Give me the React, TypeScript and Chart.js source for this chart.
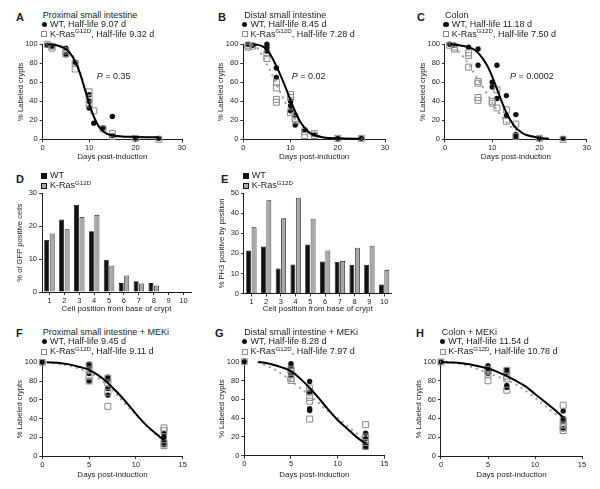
import React, { useEffect, useRef } from "react";
import { Chart, registerables } from "chart.js";
Chart.register(...registerables);

const FONT = '"Liberation Sans", Arial, Helvetica, sans-serif';
const INK = "#1c1c1c";
const GREY_PT = "#8a8a8a";
const GREY_LINE = "#9c9c9c";
const GREY_BAR = "#a8a8a8";

// ---------- Panel A: Proximal small intestine ----------
const aWtX = [1, 2, 5, 5, 7, 10, 10, 10, 11, 13, 15, 15, 20, 25];
const aWtY = [99, 98, 96, 89, 81, 47, 40, 33, 17, 12, 24, 4, 1, 1];
const aKrX = [1, 2, 2, 5, 5, 7, 7, 10, 10, 10, 11, 13, 15, 15, 20, 25];
const aKrY = [100, 98, 96, 93, 90, 80, 74, 50, 43, 37, 30, 11, 6, 3, 1, 0];
const aFitX = [1, 3, 5, 6, 7, 8, 9, 10, 11, 12, 13, 14, 15, 17, 20, 25];
const aWtFit = [100, 99, 95, 90, 82, 70, 54, 38, 24, 14, 8.5, 5.5, 4, 3, 2.5, 2.2];
const aKrFit = [100, 99, 96, 91, 84, 72, 56, 39, 24, 14, 8, 5, 3.5, 2.5, 2, 2];

// ---------- Panel B: Distal small intestine ----------
const bWtX = [1, 2, 5, 5, 5, 7, 7, 10, 10, 10, 11, 11, 13, 15, 20, 25];
const bWtY = [100, 99, 100, 97, 93, 75, 65, 40, 35, 30, 25, 15, 10, 5, 1, 1];
const bKrX = [1, 1, 2, 5, 5, 7, 7, 7, 7, 10, 10, 10, 11, 11, 13, 13, 15, 15, 20, 25];
const bKrY = [99, 97, 98, 90, 85, 60, 54, 42, 39, 47, 44, 28, 22, 20, 8, 4, 6, 4, 1, 1];
const bFitX = [2, 3, 4, 5, 6, 7, 8, 9, 10, 11, 12, 13, 14, 15, 17, 20, 25];
const bWtFit = [100, 99.5, 98, 94, 87, 77, 66, 54, 41, 29, 19, 12, 7, 4.5, 2, 1, 0.5];
const bKrFit = [99, 96, 88, 79, 69, 58, 48, 38, 29, 21, 15, 10, 7, 5, 2, 1, 0.5];

// ---------- Panel C: Colon ----------
const cWtX = [1, 2, 5, 7, 7, 10, 10, 11, 11, 13, 13, 15, 15, 15, 20, 25];
const cWtY = [100, 99, 97, 95, 78, 60, 55, 78, 43, 46, 25, 26, 5, 2, 1, 1];
const cKrX = [1, 2, 2, 5, 5, 5, 7, 7, 7, 7, 10, 10, 11, 11, 13, 13, 15, 15, 20, 25];
const cKrY = [99, 97, 95, 91, 88, 76, 61, 59, 44, 41, 40, 38, 52, 33, 31, 19, 16, 3, 1, 0];
const cWtFitX = [1, 3, 5, 6, 7, 8, 9, 10, 11, 12, 13, 14, 15, 16, 17, 18, 20, 22];
const cWtFit = [100, 99, 97, 95, 91, 85, 77, 66, 53, 40, 28, 19, 12, 8, 5, 3.5, 1.5, 0.5];
const cKrFitX = [1, 2, 3, 4, 5, 6, 7, 8, 9, 10, 11, 12, 13, 14, 15, 16, 17, 18, 20, 22];
const cKrFit = [100, 98, 92, 86, 79, 71, 63, 55, 47, 39, 31, 24, 18, 13, 10, 7.5, 5.5, 4, 2, 0.5];

// ---------- Panel D: GFP positive cells by position ----------
const positions = ["1", "2", "3", "4", "5", "6", "7", "8", "9", "10"];
const dWt = [15.8, 22, 26.5, 18.5, 9.8, 2.7, 3.3, 2.7, 0, 0];
const dKr = [17.8, 19.1, 22.8, 23.4, 8, 5, 2.6, 2, 0, 0];

// ---------- Panel E: PH3 positive by position ----------
const eWt = [21.5, 23.5, 12.5, 14.5, 24.5, 16, 15.7, 14.3, 14.3, 4.5];
const eKr = [33, 46.5, 37.5, 47.8, 37.3, 21.5, 16.3, 22.8, 23.8, 11.8];

// ---------- Panel F: Proximal + MEKi ----------
const fWtX = [0, 5, 5, 5, 5, 7, 7, 7, 7, 13, 13, 13, 13];
const fWtY = [100, 98, 95, 88, 80, 84, 81, 72, 65, 24, 20, 16, 12];
const fKrX = [0, 5, 5, 5, 5, 7, 7, 7, 7, 13, 13, 13, 13];
const fKrY = [100, 97, 92, 85, 80, 83, 78, 68, 53, 30, 27, 14, 11];
const fFitX = [0.5, 2, 3, 4, 5, 6, 7, 8, 9, 10, 11, 12, 13];
const fWtFit = [100, 99, 97.5, 95, 92, 86, 78, 68, 57, 45, 34, 25, 17];
const fKrFit = [100, 98, 96, 93, 89, 83, 75, 65, 54, 44, 33, 24, 16];

// ---------- Panel G: Distal + MEKi ----------
const gWtX = [0, 5, 5, 5, 5, 7, 7, 7, 7, 13, 13, 13, 13];
const gWtY = [100, 98, 95, 88, 85, 79, 67, 50, 48, 24, 18, 12, 9];
const gKrX = [0, 5, 5, 5, 5, 7, 7, 7, 7, 7, 13, 13, 13, 13];
const gKrY = [100, 92, 90, 82, 80, 72, 68, 62, 58, 39, 33, 20, 14, 10];
const gFitX = [1.5, 3, 4, 5, 6, 7, 8, 9, 10, 11, 12, 13];
const gWtFit = [100, 97, 94, 90, 82, 72, 61, 49, 38, 29, 20, 13];
const gKrFit = [99, 93, 87, 80, 72, 64, 56, 47, 40, 32, 24, 17];

// ---------- Panel H: Colon + MEKi ----------
const hWtX = [0, 5, 5, 5, 5, 7, 7, 7, 7, 13, 13, 13, 13];
const hWtY = [100, 96, 93, 90, 88, 92, 89, 75, 73, 48, 40, 37, 29];
const hKrX = [0, 5, 5, 5, 5, 7, 7, 7, 7, 13, 13, 13, 13, 13];
const hKrY = [100, 92, 90, 87, 80, 91, 85, 82, 70, 54, 38, 33, 30, 27];
const hFitX = [0, 1, 2, 3, 4, 5, 6, 7, 8, 9, 10, 11, 12, 13];
const hWtFit = [100, 99.5, 99, 97.5, 95.5, 93, 89.5, 85, 80, 74, 66, 58, 50, 41];
const hKrFit = [100, 99.3, 98, 95.5, 92, 88, 84.5, 80.5, 76, 69.5, 62, 54, 46, 40];

// ---------- layout helpers ----------
const YT = 7.6; // y title font size
const XT = 8; // x title font size
const TK = 7.5; // tick font size
const Y_TITLE_OFF = 22;

type Area = { l: number; r: number; t: number; b: number; xOff: number };

function boxFor(a: Area) {
  const yW = Y_TITLE_OFF + (YT * 1.2) / 2;
  const xH = a.xOff + (XT * 1.2) / 2;
  const x = Math.round(a.l - yW - 4);
  const y = Math.round(a.t - 8);
  const w = Math.round(a.r + 10 - x);
  const h = Math.round(a.b + xH + 4 - y);
  return {
    x, y, w, h, yW, xH,
    pad: { left: a.l - yW - x, top: a.t - y, right: x + w - a.r, bottom: y + h - a.b - xH },
  };
}

function axis(kind: "x" | "y", title: string, size: number, extra: any) {
  return {
    ...extra,
    ticks: { ...(extra.ticks || {}), font: { family: FONT, size: TK }, color: INK, padding: kind === "y" ? 2 : 1, autoSkip: false, maxRotation: 0 },
    grid: { display: true, drawOnChartArea: false, drawTicks: true, tickLength: 3, tickColor: INK, tickWidth: 0.9, offset: false },
    border: { display: true, color: INK, width: 1 },
    title: { display: true, text: title, font: { family: FONT, size: kind === "y" ? YT : XT }, color: INK, padding: 0 },
    afterFit: (s: any) => {
      if (kind === "y") {
        s.width = size;
        s.paddingTop = 0;
        s.paddingBottom = 0;
      } else {
        s.height = size;
        s.paddingLeft = 0;
        s.paddingRight = 0;
      }
    },
  };
}

function pts(xs: number[], ys: number[]) {
  return xs.map((x, i) => ({ x, y: ys[i] }));
}

type ScatterSpec = {
  area: Area;
  xMax: number;
  xStep: number;
  wtX: number[]; wtY: number[]; krX: number[]; krY: number[];
  wtFitX: number[]; wtFit: number[]; krFitX: number[]; krFit: number[];
};

function scatterConfig(s: ScatterSpec, bx: ReturnType<typeof boxFor>): any {
  return {
    type: "scatter",
    data: {
      datasets: [
        { data: pts(s.wtFitX, s.wtFit), showLine: true, borderColor: "#000", borderWidth: 2, pointRadius: 0, cubicInterpolationMode: "monotone", clip: false },
        { data: pts(s.krFitX, s.krFit), showLine: true, borderColor: GREY_LINE, borderWidth: 2.2, borderDash: [0.1, 6], borderCapStyle: "round", pointRadius: 0, cubicInterpolationMode: "monotone", clip: false },
        { data: pts(s.krX, s.krY), pointStyle: "rect", pointRadius: 4.2, backgroundColor: "rgba(255,255,255,0)", borderColor: GREY_PT, borderWidth: 1, clip: false },
        { data: pts(s.wtX, s.wtY), pointStyle: "circle", pointRadius: 2.7, backgroundColor: "#111", borderWidth: 0, clip: false },
      ],
    },
    options: {
      responsive: false,
      animation: false,
      events: [],
      layout: { padding: bx.pad },
      plugins: { legend: { display: false }, tooltip: { enabled: false }, title: { display: false } },
      scales: {
        x: axis("x", "Days post-induction", bx.xH, { type: "linear", min: 0, max: s.xMax, ticks: { stepSize: s.xStep } }),
        y: axis("y", "% Labeled crypts", bx.yW, { type: "linear", min: 0, max: 100, ticks: { stepSize: 20 } }),
      },
    },
  };
}

type BarSpec = { area: Area; wt: number[]; kr: number[]; yMax: number; yTitle: string };

function barConfig(s: BarSpec, bx: ReturnType<typeof boxFor>): any {
  return {
    type: "bar",
    data: {
      labels: positions,
      datasets: [
        { data: s.wt, backgroundColor: "#111", borderColor: "#111", borderWidth: 0.8, categoryPercentage: 0.74, barPercentage: 0.9 },
        { data: s.kr, backgroundColor: GREY_BAR, borderColor: "#111", borderWidth: 0.8, categoryPercentage: 0.74, barPercentage: 0.9 },
      ],
    },
    options: {
      responsive: false,
      animation: false,
      events: [],
      layout: { padding: bx.pad },
      plugins: { legend: { display: false }, tooltip: { enabled: false } },
      scales: {
        x: axis("x", "Cell position from base of crypt", bx.xH, { type: "category", offset: true }),
        y: axis("y", s.yTitle, bx.yW, { type: "linear", min: 0, max: s.yMax, ticks: { stepSize: 10 } }),
      },
    },
  };
}

function ChartBox({ area, make }: { area: Area; make: (bx: any) => any }) {
  const ref = useRef<HTMLCanvasElement>(null);
  const bx = boxFor(area);
  useEffect(() => {
    const chart = new Chart(ref.current as HTMLCanvasElement, make(bx));
    return () => chart.destroy();
  }, []);
  return (
    <canvas
      ref={ref}
      width={bx.w}
      height={bx.h}
      style={{ position: "absolute", left: bx.x, top: bx.y, width: bx.w, height: bx.h }}
    />
  );
}

function T({ x, cy, size = 9, bold = false, children }: any) {
  return (
    <div
      style={{
        position: "absolute", left: x, top: cy - size / 2, fontSize: size, lineHeight: `${size}px`,
        fontWeight: bold ? "bold" : "normal", whiteSpace: "nowrap", color: INK, fontFamily: FONT,
      }}
    >
      {children}
    </div>
  );
}

function Dot({ cx, cy }: any) {
  return <div style={{ position: "absolute", left: cx - 2.7, top: cy - 2.7, width: 5.4, height: 5.4, borderRadius: "50%", background: "#111" }} />;
}
function OpenSq({ cx, cy }: any) {
  return <div style={{ position: "absolute", left: cx - 3, top: cy - 3, width: 4.2, height: 4.2, border: `1px solid ${GREY_PT}`, background: "#fff" }} />;
}
function FillSq({ cx, cy, color }: any) {
  return <div style={{ position: "absolute", left: cx - 2.8, top: cy - 2.8, width: 4, height: 4, border: "0.8px solid #111", background: color }} />;
}

const KRas = () => (
  <>
    K-Ras<span style={{ fontSize: 6.2, position: "relative", top: -3.6 }}>G12D</span>
  </>
);

function ScatterLegend({ x, tx, y0, title, wt, kr }: any) {
  return (
    <>
      <T x={x} cy={y0}>{title}</T>
      <Dot cx={tx - 5.7} cy={y0 + 9.3} />
      <T x={tx} cy={y0 + 9.3}>WT, Half-life {wt} d</T>
      <OpenSq cx={tx - 5.7} cy={y0 + 19.3} />
      <T x={tx} cy={y0 + 19.3}><KRas />, Half-life {kr} d</T>
    </>
  );
}

function BarLegend({ mx, tx, y0 }: any) {
  return (
    <>
      <FillSq cx={mx} cy={y0} color="#111" />
      <T x={tx} cy={y0}>WT</T>
      <FillSq cx={mx} cy={y0 + 10} color={GREY_BAR} />
      <T x={tx} cy={y0 + 10}><KRas /></T>
    </>
  );
}

const areaA: Area = { l: 42.7, r: 182, t: 44.3, b: 139.3, xOff: 17.7 };
const areaB: Area = { l: 243.3, r: 385, t: 44.3, b: 139.3, xOff: 17.7 };
const areaC: Area = { l: 445, r: 586.7, t: 44.3, b: 139.3, xOff: 17.7 };
const areaD: Area = { l: 42, r: 191, t: 193.3, b: 292, xOff: 17 };
const areaE: Area = { l: 244, r: 391.5, t: 193.3, b: 293.5, xOff: 15.5 };
const areaF: Area = { l: 42.3, r: 182.7, t: 362.3, b: 456, xOff: 19 };
const areaG: Area = { l: 244.3, r: 384.3, t: 361.7, b: 455.7, xOff: 19 };
const areaH: Area = { l: 441, r: 582, t: 362, b: 456, xOff: 19 };

export default function App() {
  return (
    <div style={{ position: "absolute", left: 0, top: 0, width: 600, height: 489, background: "#fff", overflow: "hidden", fontFamily: FONT }}>
      <ChartBox area={areaA} make={(bx) => scatterConfig({ area: areaA, xMax: 30, xStep: 10, wtX: aWtX, wtY: aWtY, krX: aKrX, krY: aKrY, wtFitX: aFitX, wtFit: aWtFit, krFitX: aFitX, krFit: aKrFit }, bx)} />
      <ChartBox area={areaB} make={(bx) => scatterConfig({ area: areaB, xMax: 30, xStep: 10, wtX: bWtX, wtY: bWtY, krX: bKrX, krY: bKrY, wtFitX: bFitX, wtFit: bWtFit, krFitX: bFitX, krFit: bKrFit }, bx)} />
      <ChartBox area={areaC} make={(bx) => scatterConfig({ area: areaC, xMax: 30, xStep: 10, wtX: cWtX, wtY: cWtY, krX: cKrX, krY: cKrY, wtFitX: cWtFitX, wtFit: cWtFit, krFitX: cKrFitX, krFit: cKrFit }, bx)} />
      <ChartBox area={areaD} make={(bx) => barConfig({ area: areaD, wt: dWt, kr: dKr, yMax: 30, yTitle: "% of GFP positive cells" }, bx)} />
      <ChartBox area={areaE} make={(bx) => barConfig({ area: areaE, wt: eWt, kr: eKr, yMax: 50, yTitle: "% PH3 positive by position" }, bx)} />
      <ChartBox area={areaF} make={(bx) => scatterConfig({ area: areaF, xMax: 15, xStep: 5, wtX: fWtX, wtY: fWtY, krX: fKrX, krY: fKrY, wtFitX: fFitX, wtFit: fWtFit, krFitX: fFitX, krFit: fKrFit }, bx)} />
      <ChartBox area={areaG} make={(bx) => scatterConfig({ area: areaG, xMax: 15, xStep: 5, wtX: gWtX, wtY: gWtY, krX: gKrX, krY: gKrY, wtFitX: gFitX, wtFit: gWtFit, krFitX: gFitX, krFit: gKrFit }, bx)} />
      <ChartBox area={areaH} make={(bx) => scatterConfig({ area: areaH, xMax: 15, xStep: 5, wtX: hWtX, wtY: hWtY, krX: hKrX, krY: hKrY, wtFitX: hFitX, wtFit: hWtFit, krFitX: hFitX, krFit: hKrFit }, bx)} />

      {/* panel letters */}
      <T x={16} cy={17} size={11} bold>A</T>
      <T x={218} cy={17} size={11} bold>B</T>
      <T x={417} cy={17} size={11} bold>C</T>
      <T x={16} cy={179} size={11} bold>D</T>
      <T x={221} cy={179} size={11} bold>E</T>
      <T x={16} cy={333} size={11} bold>F</T>
      <T x={215} cy={333} size={11} bold>G</T>
      <T x={416} cy={333} size={11} bold>H</T>

      <ScatterLegend x={42.7} tx={50} y0={15} title="Proximal small intestine" wt="9.07" kr="9.32" />
      <ScatterLegend x={244.3} tx={250.5} y0={15} title="Distal small intestine" wt="8.45" kr="7.28" />
      <ScatterLegend x={445} tx={451.7} y0={15} title="Colon" wt="11.18" kr="7.50" />
      <ScatterLegend x={42.7} tx={50} y0={332.3} title="Proximal small intestine + MEKi" wt="9.45" kr="9.11" />
      <ScatterLegend x={244.3} tx={250.5} y0={332.3} title="Distal small intestine + MEKi" wt="8.28" kr="7.97" />
      <ScatterLegend x={441.7} tx={448.3} y0={332.3} title="Colon + MEKi" wt="11.54" kr="10.78" />

      <BarLegend mx={44.2} tx={50} y0={175.7} />
      <BarLegend mx={245.5} tx={251.7} y0={175.7} />

      <T x={96.7} cy={76.7} size={9}><i>P</i> = 0.35</T>
      <T x={291.7} cy={76} size={9}><i>P</i> = 0.02</T>
      <T x={510} cy={76} size={9}><i>P</i> = 0.0002</T>
    </div>
  );
}
